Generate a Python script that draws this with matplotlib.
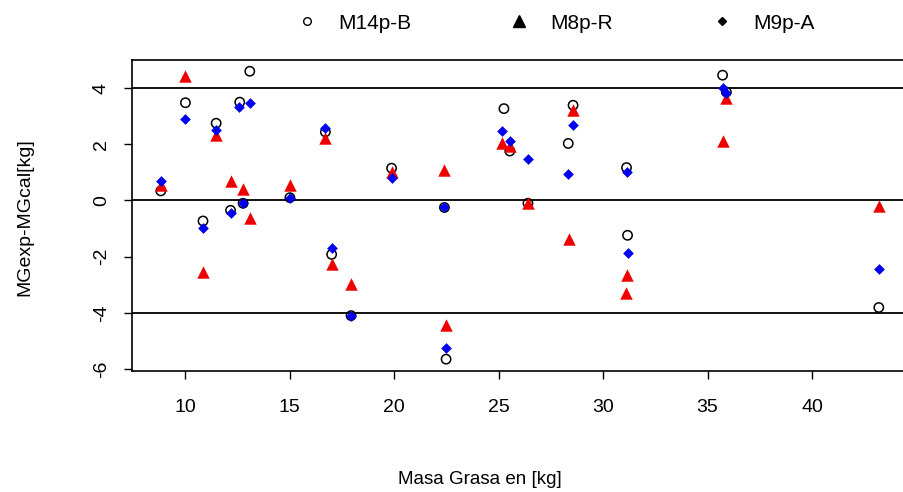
import matplotlib
matplotlib.use("Agg")
import matplotlib.pyplot as plt
from matplotlib.lines import Line2D

plt.rcParams["font.family"] = ["Liberation Sans", "DejaVu Sans"]

# M14p-B (open circles)
x_b = [8.82, 10.0, 10.84, 11.47, 12.16, 12.6, 12.76, 13.08, 15.0, 16.7, 17.0, 17.93, 19.87,
       22.4, 22.48, 25.25, 25.53, 26.4, 28.56, 28.33, 31.12, 31.17, 35.72, 35.9, 43.2]
y_b = [0.34, 3.48, -0.73, 2.75, -0.35, 3.5, -0.1, 4.6, 0.1, 2.44, -1.92, -4.1, 1.15,
       -0.25, -5.65, 3.27, 1.76, -0.1, 3.39, 2.03, 1.17, -1.24, 4.46, 3.86, -3.81]

# M8p-R (red triangles)
x_r = [8.82, 10.0, 10.84, 11.47, 12.16, 12.76, 13.08, 15.0, 16.7, 17.0, 17.93, 19.87,
       22.4, 22.48, 25.18, 25.53, 26.4, 28.56, 28.36, 31.12, 31.1, 35.72, 35.9, 43.2]
y_r = [0.55, 4.43, -2.53, 2.33, 0.68, 0.42, -0.61, 0.54, 2.24, -2.27, -2.98, 1.02,
       1.09, -4.43, 2.04, 1.94, -0.08, 3.22, -1.36, -2.65, -3.28, 2.12, 3.66, -0.2]

# M9p-A (blue diamonds)
x_a = [8.82, 10.0, 10.84, 11.47, 12.16, 12.57, 12.76, 13.1, 15.0, 16.7, 17.0, 17.93, 19.87,
       22.4, 22.48, 25.18, 25.53, 26.4, 28.56, 28.33, 31.12, 31.17, 35.72, 35.9, 43.2]
y_a = [0.70, 2.89, -0.97, 2.51, -0.43, 3.34, -0.1, 3.48, 0.1, 2.59, -1.68, -4.11, 0.81,
       -0.22, -5.24, 2.46, 2.13, 1.47, 2.69, 0.93, 1.01, -1.86, 4.02, 3.84, -2.43]

ref_lines = [4, 0, -4]
xticks = [10, 15, 20, 25, 30, 35, 40]
yticks = [-6, -4, -2, 0, 2, 4]

fig = plt.figure(figsize=(9.04, 4.92), dpi=100)
ax = fig.add_axes([0.146, 0.246, 0.858, 0.632])

ax.scatter(x_b, y_b, marker="o", s=45, facecolors="none", edgecolors="black", linewidths=1.1, zorder=3)
ax.scatter(x_r, y_r, marker="^", s=80, color="#ee0000", linewidths=0, zorder=4)
ax.scatter(x_a, y_a, marker="D", s=30, color="#0000ee", linewidths=0, zorder=5)

for v in ref_lines:
    ax.axhline(v, color="black", lw=1.3, zorder=2)

ax.set_xlim(7.44, 44.58)
ax.set_ylim(-6.07, 5.0)
ax.set_xticks(xticks)
ax.set_yticks(yticks)
ax.set_yticklabels([str(t) for t in yticks], rotation=90, va="center")
ax.tick_params(direction="out", length=6, width=1, labelsize=14, colors="black")
ax.tick_params(axis="x", pad=14)
ax.tick_params(axis="y", pad=10)
for s in ax.spines.values():
    s.set_linewidth(1.2)

fig.text(0.027, 0.558, "MGexp-MGcal[kg]", rotation=90, ha="center", va="center", fontsize=14)
fig.text(0.531, 0.025, "Masa Grasa en [kg]", ha="center", va="center", fontsize=13.5)

handles = [
    Line2D([], [], ls="none", marker="o", mfc="none", mec="black", ms=5.5, mew=1),
    Line2D([], [], ls="none", marker="^", color="black", ms=8.5),
    Line2D([], [], ls="none", marker="D", color="black", ms=4.5),
]
fig.legend(handles, ["M14p-B", "M8p-R", "M9p-A"], loc="center", bbox_to_anchor=(0.613, 0.953),
           ncol=3, frameon=False, fontsize=15, handlelength=1.2, handletextpad=0.9,
           columnspacing=4.6)

fig.savefig("out.png", dpi=100)
